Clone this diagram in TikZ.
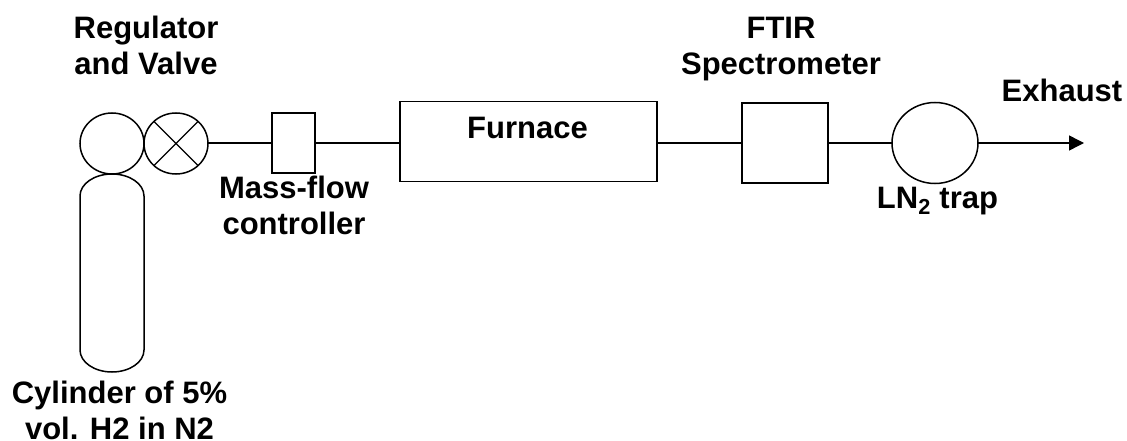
\documentclass[tikz,border=0pt]{standalone}
\usepackage{fontspec}
\setmainfont{Liberation Sans}
\usetikzlibrary{arrows.meta,shapes.geometric}
\tikzset{
 lbl/.style={font=\fontsize{31}{36}\selectfont\bfseries,align=center,inner sep=0pt,anchor=base},
 part/.style={draw=black,line width=1.5pt,fill=white,inner sep=0pt,outer sep=0pt},
 round part/.style={part,ellipse,minimum width=64,minimum height=61},
 pipe/.style={draw=black,line width=1.4pt}
}
\begin{document}
\begin{tikzpicture}[x=1pt,y=-1pt,every node/.append style={anchor=center}]
\useasboundingbox (0,0) rectangle (1127,441);
\draw[part] (80,196) arc[x radius=32,y radius=22,start angle=180,end angle=360] -- (144,350) arc[x radius=32,y radius=22,start angle=0,end angle=180] -- cycle;
\node[round part] (reg) at (112,143.5) {};
\node[round part] (val) at (176,143.5) {};
\draw[pipe] (val.45) -- (val.225) (val.135) -- (val.-45);
\node[part,minimum width=43,minimum height=60] (mfc) at (293.5,143) {};
\node[part,minimum width=257,minimum height=80] (fur) at (528.5,141.5) {};
\node[part,minimum width=86,minimum height=80] (ftir) at (785,143) {};
\node[part,ellipse,minimum width=86,minimum height=81] (trap) at (935,143) {};
\coordinate (ex) at (1084,143);
\draw[pipe] (mfc.west -| val.east) -- (mfc.west);
\draw[pipe] (mfc.east) -- (mfc.east -| fur.west);
\draw[pipe] (mfc.east -| fur.east) -- (mfc.east -| ftir.west);
\draw[pipe] (ftir.east) -- (trap.west);
\draw[pipe,-{Triangle[length=15pt,width=15pt]}] (trap.east) -- (ex);
\node[lbl] (l1) at (146,75) {Regulator\\and Valve};
\node[lbl] (l2) at (294,234) {Mass-flow\\controller};
\node[lbl] (l3) at (527.5,139) {Furnace};
\node[lbl] (l4) at (781,75) {FTIR\\Spectrometer};
\node[lbl] (l5) at (1062,102) {Exhaust};
\node[lbl] (l6) at (937.5,208) {LN\textsubscript{2} trap};
\node[lbl] (l7) at (119.5,439) {Cylinder of 5\%\\vol. H2 in N2};
\end{tikzpicture}
\end{document}
